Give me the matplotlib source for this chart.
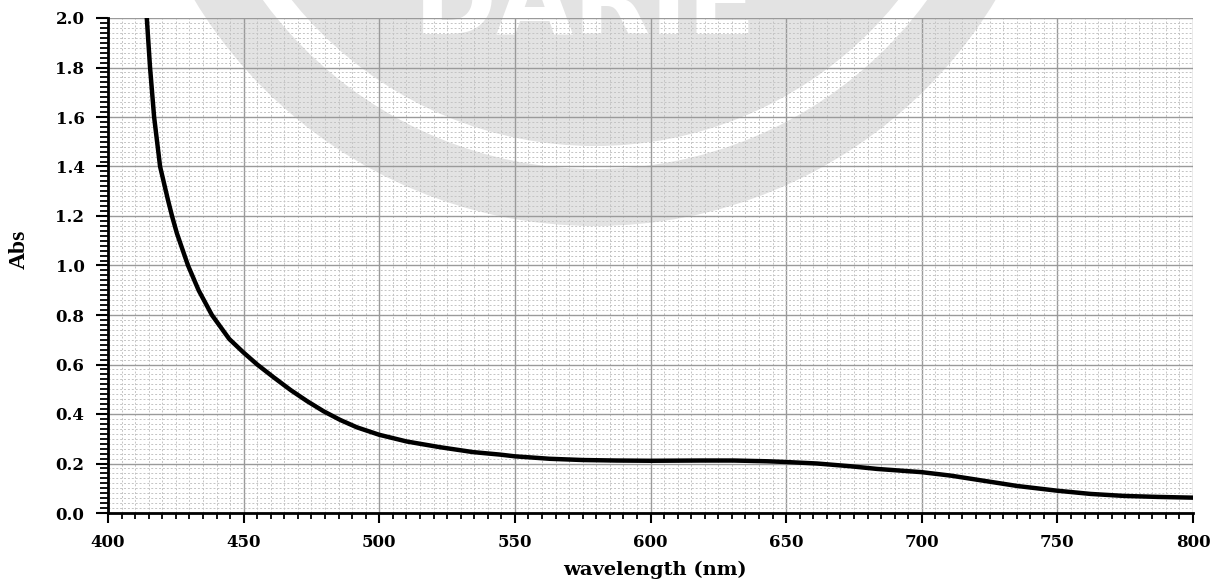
import matplotlib
import matplotlib.pyplot as plt
from matplotlib.patches import Circle
from matplotlib.ticker import MultipleLocator, FormatStrFormatter
matplotlib.use('Agg')

# espectro
wavelength = [414.3, 415.5, 417.0, 419.2, 422.1, 423.6, 425.4, 429.5, 433.4,
              438.3, 444.7, 450.0, 455.0, 461.1, 467.3, 473.4, 479.5, 485.6,
              491.8, 500.0, 510.1, 522.3, 534.6, 544.5, 550.0, 562.9, 575.2,
              587.5, 600.0, 618.4, 630.7, 643.0, 650.0, 661.4, 673.6, 683.6,
              700.0, 710.7, 723.0, 735.3, 750.0, 762.3, 774.6, 786.9, 800.0]
absorbance = [2.00, 1.80, 1.60, 1.40, 1.265, 1.20, 1.13, 1.00, 0.90,
              0.80, 0.703, 0.648, 0.600, 0.548, 0.497, 0.452, 0.411, 0.376,
              0.346, 0.316, 0.289, 0.266, 0.246, 0.236, 0.229, 0.219, 0.214,
              0.212, 0.211, 0.212, 0.212, 0.209, 0.206, 0.200, 0.189, 0.178,
              0.165, 0.151, 0.130, 0.109, 0.090, 0.077, 0.069, 0.065, 0.062]

W, H = 1221, 583
fig = plt.figure(figsize=(W / 100, H / 100), dpi=100)

# marca de agua de fondo (en píxeles)
bg = fig.add_axes([0, 0, 1, 1])
bg.set_xlim(0, W)
bg.set_ylim(H, 0)
bg.axis('off')
gris = '#e3e3e3'
bg.add_patch(Circle((595, -242), 468, color=gris, lw=0))
bg.add_patch(Circle((595, -242), 411, color='white', lw=0))
bg.add_patch(Circle((595, -242), 388, color=gris, lw=0))
bg.text(585, 33, 'DARIE', color='white', fontsize=72, fontweight='bold',
        family='DejaVu Sans', ha='center', va='baseline')

ax = fig.add_axes([108 / W, 1 - 513 / H, (1193 - 108) / W, (513 - 18) / H])
ax.set_facecolor('none')
ax.plot(wavelength, absorbance, color='black', linewidth=3.2, zorder=3)

ax.set_xlim(400, 800)
ax.set_ylim(0, 2.0)
ax.xaxis.set_major_locator(MultipleLocator(50))
ax.xaxis.set_minor_locator(MultipleLocator(5))
ax.yaxis.set_major_locator(MultipleLocator(0.2))
ax.yaxis.set_minor_locator(MultipleLocator(0.02))
ax.yaxis.set_major_formatter(FormatStrFormatter('%.1f'))

ax.grid(which='minor', color='#c4c4c4', linestyle=(0, (2, 2)), linewidth=0.7)
ax.grid(which='major', color='#9a9a9a', linestyle='-', linewidth=1.0)
ax.set_axisbelow(True)

for lado in ['top', 'right']:
    ax.spines[lado].set_visible(False)
for lado in ['left', 'bottom']:
    ax.spines[lado].set_linewidth(2)

ax.tick_params(axis='y', which='major', length=9, width=1.5, pad=8)
ax.tick_params(axis='y', which='minor', length=5.5, width=1.3)
ax.tick_params(axis='x', which='major', length=7, width=1.5, pad=8)
ax.tick_params(axis='x', which='minor', length=4, width=1.3)

for etiqueta in ax.get_xticklabels() + ax.get_yticklabels():
    etiqueta.set_family('DejaVu Serif')
    etiqueta.set_fontweight('bold')
    etiqueta.set_fontsize(12)

ax.set_xlabel('wavelength (nm)', family='DejaVu Serif', fontweight='bold',
              fontsize=14)
ax.xaxis.set_label_coords(0.504, -0.097)
ax.set_ylabel('Abs', family='Liberation Serif', fontweight='bold',
              fontsize=17)
ax.yaxis.set_label_coords(-0.072, 0.532)

fig.savefig('out.png', dpi=100)
plt.close(fig)
